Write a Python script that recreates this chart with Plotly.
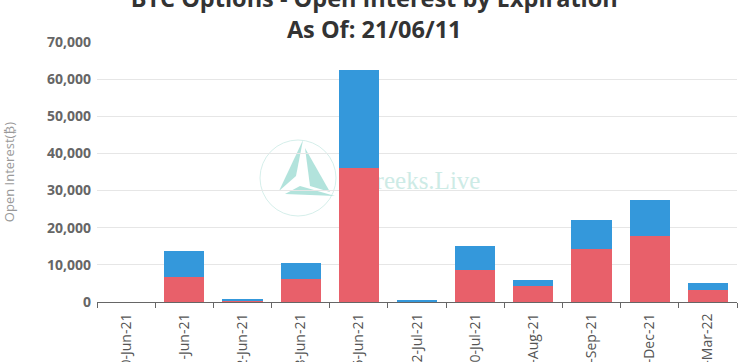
import plotly.graph_objects as go

expiries = ["10-Jun-21", "11-Jun-21", "12-Jun-21", "18-Jun-21", "25-Jun-21",
            "2-Jul-21", "30-Jul-21", "27-Aug-21", "24-Sep-21", "31-Dec-21", "25-Mar-22"]
put_oi = [0, 6700, 400, 6250, 36200, 250, 8700, 4350, 14300, 17700, 3300]
call_oi = [0, 7150, 350, 4350, 26200, 300, 6500, 1450, 7800, 9800, 1750]

red = "#e8606a"
blue = "#3498db"

W, H = 747, 362
L, R, T, B = 97, 10, 42, 60
PW, PH = W - L - R, H - T - B


def px(x):
    return (x - L) / PW


def py(y):
    return (H - B - y) / PH


fig = go.Figure()
fig.add_trace(go.Bar(x=expiries, y=put_oi, name="Put", marker=dict(color=red, line=dict(width=0))))
fig.add_trace(go.Bar(x=expiries, y=call_oi, name="Call", marker=dict(color=blue, line=dict(width=0))))

shapes = [
    # watermark logo
    dict(type="circle", xref="paper", yref="paper", layer="below",
         x0=px(260), x1=px(336), y0=py(216), y1=py(140),
         line=dict(color="#d6efeb", width=1)),
    dict(type="path", xref="paper", yref="paper", layer="below",
         path=f"M {px(279)} {py(191)} L {px(303)} {py(140)} L {px(296)} {py(176)} Z",
         fillcolor="#b2e3dc", line=dict(width=0)),
    dict(type="path", xref="paper", yref="paper", layer="below",
         path=f"M {px(305)} {py(148)} L {px(330)} {py(192)} L {px(310)} {py(186)} Z",
         fillcolor="#b2e3dc", line=dict(width=0)),
    dict(type="path", xref="paper", yref="paper", layer="below",
         path=f"M {px(285)} {py(194)} L {px(335)} {py(196)} L {px(300)} {py(186)} Z",
         fillcolor="#b2e3dc", line=dict(width=0)),
    dict(type="rect", xref="paper", yref="paper", layer="below",
         x0=px(350), x1=px(488), y0=py(195), y1=py(160),
         line=dict(width=0), fillcolor="rgba(0,0,0,0)",
         label=dict(text="Greeks.Live", textposition="middle center",
                    font=dict(family="Liberation Serif", size=25, color="#cdebe6"))),
]

fig.update_layout(
    width=W, height=H,
    margin=dict(l=L, r=R, t=T, b=B, autoexpand=False),
    paper_bgcolor="white", plot_bgcolor="white",
    barmode="stack", bargap=0.31,
    showlegend=False,
    shapes=shapes,
    title=dict(
        text="BTC Options - Open Interest by Expiration<br>As Of: 21/06/11",
        x=0.501, xanchor="center", xref="container",
        y=1 - 7 / H, yanchor="middle", yref="container",
        font=dict(family="Open Sans", size=23.5, color="#333333", weight="bold"),
    ),
    font=dict(family="Open Sans", color="#666666"),
)

fig.update_xaxes(
    type="category", tickangle=-90, automargin=False,
    tickson="boundaries", ticks="outside", ticklen=5, tickcolor="#666666",
    showline=True, linecolor="#666666", linewidth=1, ticklabelstandoff=5,
    tickfont=dict(family="Open Sans", size=14, color="#555555"),
    showgrid=False,
)
fig.update_yaxes(
    range=[0, 70000], dtick=10000, tickformat=",", automargin=False,
    showgrid=True, gridcolor="#e6e6e6", gridwidth=1,
    zeroline=False, showline=False, ticks="", ticklabelstandoff=5,
    tickfont=dict(family="Open Sans", size=14, color="#666666", weight="bold"),
    title=dict(text="Open Interest(₿)", standoff=31,
               font=dict(family="Open Sans", size=13, color="#999999")),
)

fig.write_html("out.html", config={"displayModeBar": False},
               post_script="document.body.style.margin='0px';")
